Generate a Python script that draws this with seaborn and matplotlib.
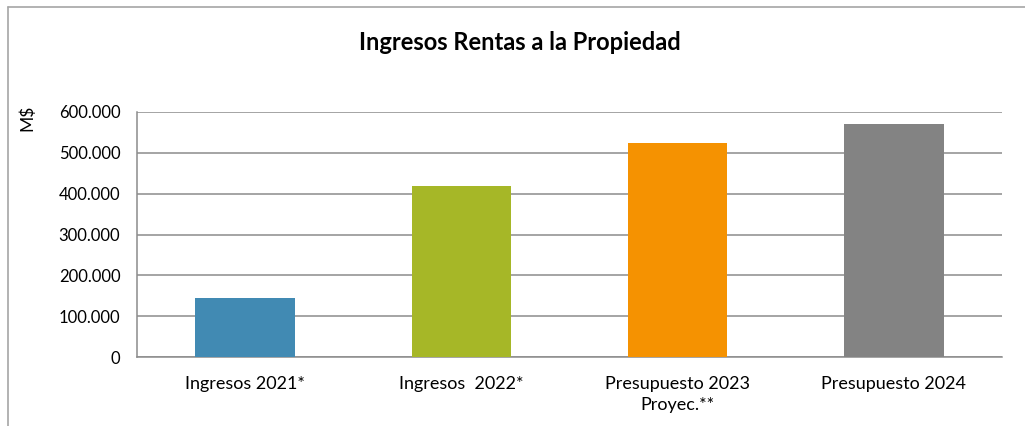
import numpy as np
import pandas as pd
import matplotlib
matplotlib.use('Agg')
import matplotlib.pyplot as plt
from matplotlib.lines import Line2D
from matplotlib.ticker import FuncFormatter
import seaborn as sns

# Data (M$)
categories = ['Ingresos 2021*', 'Ingresos  2022*', 'Presupuesto 2023\nProyec.**', 'Presupuesto 2024']
values = [144000, 418000, 524000, 570000]
bar_colors = ['#418ab3', '#a6b727', '#f59201', '#838383']
yticks = [0, 100000, 200000, 300000, 400000, 500000, 600000]

sns.set_theme(style='white')
plt.rcParams['font.family'] = ['Lato', 'DejaVu Sans']
plt.rcParams['text.color'] = 'black'

df = pd.DataFrame({'categoria': categories, 'valor': values})

fig = plt.figure(figsize=(10.25, 4.26), dpi=100)
ax = fig.add_axes([137 / 1025, 1 - 357 / 426, 865 / 1025, 245 / 426])

sns.barplot(data=df, x='categoria', y='valor', hue='categoria', palette=bar_colors,
            legend=False, width=0.46, saturation=1, linewidth=0, ax=ax, zorder=3)

ax.set_ylim(0, 600000)
ax.set_yticks(yticks)
ax.yaxis.set_major_formatter(FuncFormatter(lambda v, p: f'{int(v):,}'.replace(',', '.')))
ax.grid(axis='y', color='#8c8c8c', linewidth=1.1, zorder=0)
ax.set_xlabel('')
ax.set_ylabel('')
ax.tick_params(axis='y', labelsize=12, length=0, pad=12, colors='black')
ax.tick_params(axis='x', labelsize=13, length=0, pad=14, colors='black')
for lbl in ax.get_xticklabels():
    lbl.set_linespacing(1.35)

for side in ['top', 'right']:
    ax.spines[side].set_visible(False)
for side in ['left', 'bottom']:
    ax.spines[side].set_color('#8c8c8c')
    ax.spines[side].set_linewidth(1.1)

fig.text(520 / 1025, 1 - 42 / 426, 'Ingresos Rentas a la Propiedad', ha='center', va='center',
         fontsize=17, fontweight='bold', color='black')
fig.text(27 / 1025, 1 - 118 / 426, 'M$', rotation=90, ha='center', va='center',
         fontsize=12.5, color='black')

# outer chart frame (top and left edges visible)
fig.add_artist(Line2D([8 / 1025, 1], [1 - 7 / 426, 1 - 7 / 426], color='#a6a6a6', lw=1.2,
                      transform=fig.transFigure))
fig.add_artist(Line2D([8 / 1025, 8 / 1025], [0, 1 - 7 / 426], color='#a6a6a6', lw=1.2,
                      transform=fig.transFigure))

fig.savefig('out.png', dpi=100)
